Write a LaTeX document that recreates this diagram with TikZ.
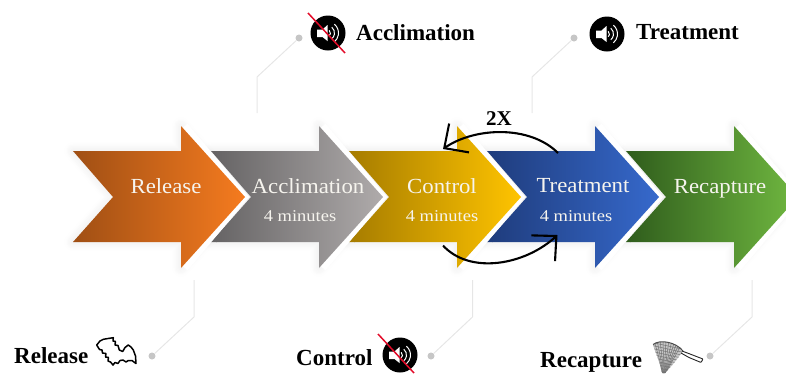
\documentclass[tikz,border=0pt]{standalone}
\usepackage{fontspec}
\setmainfont{Liberation Serif}
\newfontfamily\subfnt[FakeStretch=1.12]{Liberation Serif}
\newfontfamily\infnt[FakeStretch=1.06]{Liberation Serif}
\usetikzlibrary{arrows.meta,shadows.blur}
\definecolor{leader}{HTML}{E6E6E6}
\definecolor{dotgray}{HTML}{C6C6C6}
\definecolor{txtw}{HTML}{F6F4EE}
\definecolor{nored}{HTML}{E20A28}
\definecolor{orA}{HTML}{A04F14}\definecolor{orB}{HTML}{F57B1F}
\definecolor{grA}{HTML}{656364}\definecolor{grB}{HTML}{AFABAB}
\definecolor{goA}{HTML}{A67C00}\definecolor{goB}{HTML}{FFC400}
\definecolor{blA}{HTML}{1F3C7C}\definecolor{blB}{HTML}{3669CC}
\definecolor{gnA}{HTML}{2F5C1C}\definecolor{gnB}{HTML}{70B840}
\newcommand{\arrowshape}[1]{({#1},151) -- ({#1+108},151) -- ({#1+108},126) -- ({#1+172},197) -- ({#1+108},268) -- ({#1+108},242) -- ({#1},242) -- ({#1+40},197) -- cycle}
\newcommand{\chevron}[3]{%
  \draw[miter limit=8,draw=white,line width=6.5pt] ({#1+112},126) -- ({#1+172},197) -- ({#1+112},268);
  \shade[left color=#2,right color=#3] \arrowshape{#1};}
\newcommand{\speaker}[2]{%
  \begin{scope}[shift={(#1,#2)}]
    \fill[white] (-11,-3.5) -- (-5.5,-3.5) -- (-0.5,-8) -- (-0.5,8) -- (-5.5,4) -- (-11,4) -- cycle;
    \foreach \r in {3.5,7.5,11.5}{
      \draw[white,line width=1pt] (-1,0) ++(-50:\r) arc[start angle=-50,end angle=50,radius=\r];
    }
  \end{scope}}
\tikzset{
  x=1pt,y=-1pt,
  leaderline/.style={draw=leader,line width=1pt},
  leaderdot/.style={circle,fill=dotgray,inner sep=0pt,minimum size=7pt},
  inlabel/.style={anchor=base,text=txtw,font=\infnt\fontsize{21.5}{22}\selectfont,inner sep=0pt},
  insub/.style={anchor=base,text=txtw,font=\subfnt\fontsize{16.5}{17}\selectfont,inner sep=0pt},
  outlabel/.style={anchor=base west,text=black,font=\fontsize{23}{24}\selectfont\bfseries,inner sep=0pt},
  iconcirc/.style={circle,fill=black,inner sep=0pt,minimum size=35pt},
  noline/.style={draw=nored,line width=1.5pt},
  loopline/.style={draw=black,line width=2.1pt,-{Straight Barb[length=18pt,width=35pt,line width=2.1pt]}},
}
\begin{document}
\begin{tikzpicture}
\path[use as bounding box] (0,0) rectangle (786,373);
% soft shadows
\foreach \x in {626,487,349,211,73}{
  \path[fill=white,blur shadow={shadow xshift=0pt,shadow yshift=0pt,shadow blur radius=9pt,shadow blur steps=8,shadow opacity=10}] \arrowshape{\x};
}
% leaders
\node[leaderdot] (d1) at (299,38) {};
\node[leaderdot] (d2) at (574,38) {};
\node[leaderdot] (d3) at (152,356) {};
\node[leaderdot] (d4) at (431,356) {};
\node[leaderdot] (d5) at (710,356) {};
\coordinate (l1a) at (257,113); \coordinate (l1b) at (257,77);
\coordinate (l2a) at (532,113); \coordinate (l2b) at (532,77);
\coordinate (l3a) at (194,280); \coordinate (l3b) at (194,317);
\coordinate (l4a) at (472.5,280); \coordinate (l4b) at (472.5,317);
\coordinate (l5a) at (752,280); \coordinate (l5b) at (752,317);
\draw[leaderline] (l1a) -- (l1b) -- (d1);
\draw[leaderline] (l2a) -- (l2b) -- (d2);
\draw[leaderline] (l3a) -- (l3b) -- (d3);
\draw[leaderline] (l4a) -- (l4b) -- (d4);
\draw[leaderline] (l5a) -- (l5b) -- (d5);
% chevrons, right to left
\chevron{626}{gnA}{gnB}
\chevron{487}{blA}{blB}
\chevron{349}{goA}{goB}
\chevron{211}{grA}{grB}
\chevron{73}{orA}{orB}
% chevron labels
\node[inlabel] (t1) at (166,193) {Release};
\node[inlabel] (t2) at (308,193) {Acclimation};
\node[insub]   (s2) at (300,221) {4 minutes};
\node[inlabel] (t3) at (442,193) {Control};
\node[insub]   (s3) at (442,221) {4 minutes};
\node[inlabel] (t4) at (583,192) {Treatment};
\node[insub]   (s4) at (576,221) {4 minutes};
\node[inlabel] (t5) at (720,193) {Recapture};
% loop arrows
\coordinate (la) at (558,153); \coordinate (lb) at (443,149);
\coordinate (lc) at (443,245.5); \coordinate (ld) at (557.5,235);
\draw[loopline] (la) .. controls (530,125) and (475,127) .. (lb);
\draw[loopline] (lc) .. controls (470,275) and (525,265) .. (ld);
\node[outlabel,font=\fontsize{21}{22}\selectfont\bfseries,anchor=base] (twox) at (499,125) {2X};
% outer labels
\node[outlabel] (o1) at (356,40) {Acclimation};
\node[outlabel] (o2) at (636,39) {Treatment};
\node[outlabel] (o3) at (14,363) {Release};
\node[outlabel] (o4) at (296,365) {Control};
\node[outlabel] (o5) at (540,367) {Recapture};
% speaker icons
\node[iconcirc] (i1) at (328,33) {};
\speaker{328}{33}
\coordinate (x1a) at (308,13); \coordinate (x1b) at (345,53);
\draw[noline] (x1a) -- (x1b);
\node[iconcirc] (i2) at (607,34) {};
\speaker{607}{34}
\node[iconcirc] (i3) at (400,355) {};
\speaker{400}{355}
\coordinate (x3a) at (378,334); \coordinate (x3b) at (414,373);
\draw[noline] (x3a) -- (x3b);
% bat
\draw[black,line width=1.5pt,fill=white,line join=round]
  (96.7,345) -- (100,341) -- (103.3,339.3) -- (108,338.5) -- (113.3,337.7) -- (113,341) -- (115.5,341.5) -- (115,345) -- (118,345.5) -- (119.3,350)
  -- (122.7,351.5) -- (125,347.5) -- (128.3,345) -- (131,347) -- (133.3,350) -- (135.5,356) -- (136,363.5)
  -- (132,360.5) -- (128.3,360.5) -- (126,362) -- (123,360) -- (120,360.5) -- (118,363.5) -- (115,362.5) -- (113,365) -- (110.5,362) -- (108,361) -- (108.5,357.5) -- (105.5,357) -- (106,353.5) -- (102.5,353) -- (102,350) -- (99.5,349.5) -- cycle;
% net
\begin{scope}
  \clip (653,344.5) .. controls (660,339) and (676,342) .. (683,351) .. controls (678,358) and (672,366) .. (665,373) -- (662,373) .. controls (660,362) and (656,354) .. (653,344.5) -- cycle;
  \fill[gray!45] (650,340) rectangle (686,373);
  \foreach \i in {0,3,...,36}{
    \draw[gray!90!black,line width=.5pt] (648+\i,340) -- (664,376);
    \draw[gray!90!black,line width=.5pt] (650,342+\i) -- (686,350+\i);
  }
\end{scope}
\draw[gray!60!black,line width=1pt] (653,344.5) .. controls (660,339) and (676,342) .. (683,351);
\draw[gray!30!black,line width=.9pt,rounded corners=.8pt] (682,351) -- (690,354) -- (703,359) -- (701,362.5) -- (689,357.5) -- (681,353);
\end{tikzpicture}
\end{document}
